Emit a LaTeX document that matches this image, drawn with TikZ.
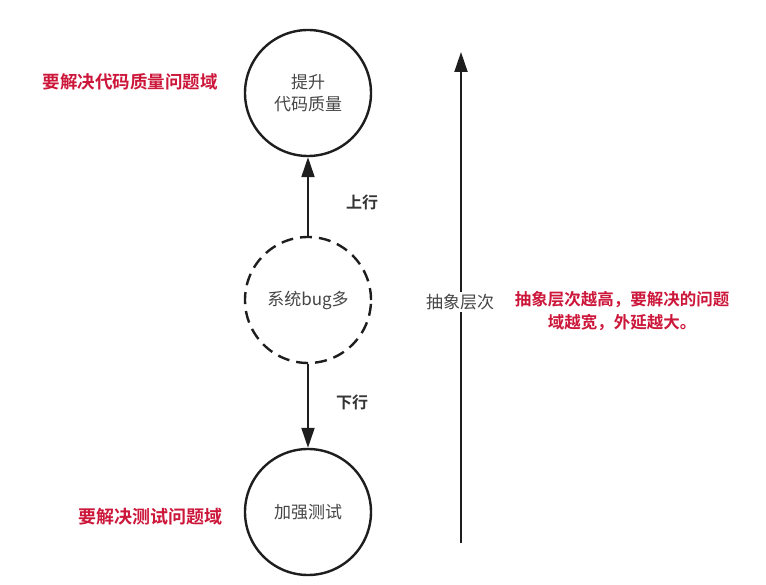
\documentclass[tikz,border=0pt]{standalone}
\usepackage{fontspec}
\newfontfamily\cjk[BoldFont={Noto Sans CJK SC Bold}]{Noto Sans CJK SC}
\usetikzlibrary{arrows.meta}
\definecolor{redtxt}{RGB}{204,22,58}
\definecolor{graytxt}{RGB}{70,70,70}
\definecolor{linec}{RGB}{30,30,30}
\tikzset{
  circ/.style={circle, draw=linec, line width=2.4pt, minimum size=126pt, inner sep=0pt,
    align=center, text=graytxt, font=\cjk\fontsize{17}{22}\selectfont},
  dashcirc/.style={circ, dash pattern=on 12pt off 7pt},
  arr/.style={draw=linec, line width=2pt, -{Triangle[length=20pt,width=13pt]}},
  lbl/.style={text=linec!90, font=\cjk\fontsize{16}{20}\selectfont\bfseries},
  redlbl/.style={text=redtxt, align=center, font=\cjk\fontsize{17.5}{23}\selectfont\bfseries},
  abslbl/.style={fill=white, inner sep=2pt, text=graytxt, font=\cjk\fontsize{17}{22}\selectfont}
}
\begin{document}
\begin{tikzpicture}[x=1pt,y=-1pt]
\useasboundingbox (0,0) rectangle (766,585);
\fill[white] (0,0) rectangle (766,585);
\node[circ] (top) at (308,93) {提升\\代码质量};
\node[dashcirc] (mid) at (308,300) {系统bug多};
\node[circ] (bot) at (308,512) {加强测试};
\draw[arr] (mid.north) -- (top.south);
\draw[arr] (mid.south) -- (bot.north);
\node[lbl] (up) at (362,202) {上行};
\node[lbl] (down) at (352,402) {下行};
\coordinate (la) at (461,543);
\coordinate (lb) at (461,52);
\draw[arr] (la) -- (lb);
\node[abslbl] (abs) at (460,302) {抽象层次};
\node[redlbl] (r1) at (130,82) {要解决代码质量问题域};
\node[redlbl, font=\cjk\fontsize{18}{23}\selectfont\bfseries] (r2) at (150,517) {要解决测试问题域};
\node[redlbl, font=\cjk\fontsize{16.5}{23}\selectfont\bfseries] (r3) at (622,311) {抽象层次越高，要解决的问题\\域越宽，外延越大。};
\end{tikzpicture}
\end{document}
